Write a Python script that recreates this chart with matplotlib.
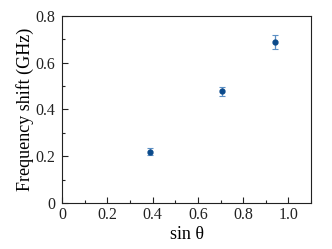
import matplotlib

matplotlib.use("Agg")

import matplotlib.pyplot as plt
from matplotlib.ticker import MultipleLocator

sin_theta = [0.39, 0.707, 0.94]
freq_shift = [0.218, 0.478, 0.688]
freq_err = [0.015, 0.02, 0.03]

plt.rcParams["font.family"] = ["Liberation Serif", "DejaVu Serif"]
plt.rcParams["text.color"] = "#222222"

fig = plt.figure(figsize=(3.32, 2.49), dpi=100)
ax = fig.add_axes([0.187, 0.185, 0.75, 0.751])

ax.errorbar(sin_theta, freq_shift, yerr=freq_err, fmt="o", ms=3.5,
            color="#0b4a8b", ecolor="#5b8fc4", elinewidth=0.9,
            capsize=2, capthick=0.8)

ax.set_xlim(0, 1.1)
ax.set_ylim(0, 0.8)
ax.xaxis.set_minor_locator(MultipleLocator(0.1))
ax.yaxis.set_minor_locator(MultipleLocator(0.1))
ax.set_xticks([0, 0.2, 0.4, 0.6, 0.8, 1.0])
ax.set_xticklabels(["0", "0.2", "0.4", "0.6", "0.8", "1.0"])
ax.set_yticks([0, 0.2, 0.4, 0.6, 0.8])
ax.set_yticklabels(["0", "0.2", "0.4", "0.6", "0.8"])
ax.tick_params(which="both", direction="in", labelsize=11.5, width=0.8,
               labelcolor="#222222", color="#222222")
ax.tick_params(which="major", length=4)
ax.tick_params(which="minor", length=2.5)
ax.tick_params(axis="x", pad=3)
ax.tick_params(axis="y", pad=5)
for s in ax.spines.values():
    s.set_linewidth(0.8)
    s.set_color("#222222")

ax.set_xlabel("sin θ", fontsize=13, labelpad=2)
ax.set_ylabel("Frequency shift (GHz)", fontsize=13, labelpad=1)

fig.savefig("out.png", dpi=100)
